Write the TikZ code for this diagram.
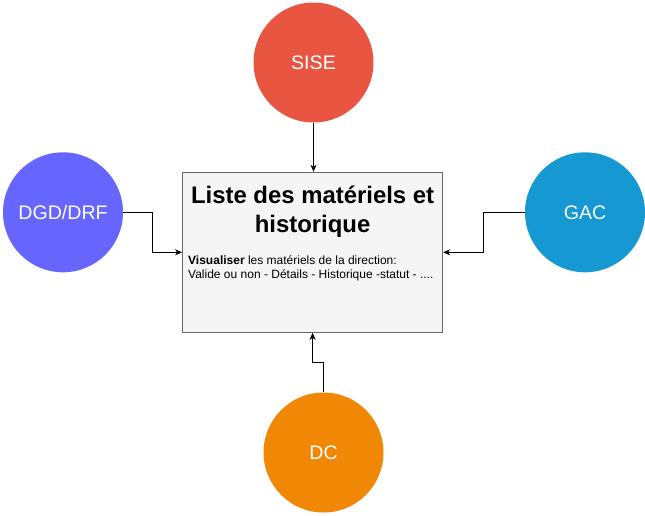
\documentclass[tikz,border=0pt]{standalone}
\usepackage{fontspec}
\setmainfont{Liberation Sans}
\usetikzlibrary{arrows.meta,calc}
\definecolor{siseC}{HTML}{E85642}
\definecolor{dgdC}{HTML}{6666FF}
\definecolor{gacC}{HTML}{1699D3}
\definecolor{dcC}{HTML}{F08705}
\definecolor{boxFill}{HTML}{F5F5F5}
\definecolor{boxLine}{HTML}{666666}
\tikzset{
  actor/.style={circle, minimum size=120pt, inner sep=0pt, text=white, font=\fontsize{19.6}{23}\selectfont},
  mainbox/.style={rectangle, draw=boxLine, fill=boxFill, line width=1pt, minimum width=260pt, minimum height=160pt, inner sep=0pt},
  titletext/.style={anchor=base, inner sep=0pt, font=\bfseries\fontsize{23.9}{28.4}\selectfont},
  bodytext/.style={anchor=base west, inner sep=0pt, font=\fontsize{12}{13.6}\selectfont},
  arr/.style={draw=black, line width=1pt, -{Stealth[length=7pt,width=6pt,inset=2pt]}},
}
\begin{document}
\begin{tikzpicture}[x=1pt,y=-1pt]
\useasboundingbox (0,0) rectangle (645,515);
\node[mainbox] (box) at (312.6,252.3) {};
\node[actor, fill=siseC] (sise) at (313.5,62.5) {SISE};
\node[actor, fill=dgdC] (dgd) at (63,212.3) {DGD/DRF};
\node[actor, fill=gacC] (gac) at (585,212.3) {GAC};
\node[actor, fill=dcC] (dc) at (323.5,452.5) {DC};
\node[titletext] (title1) at (312.6,203.3) {Liste des matériels et};
\node[titletext] (title2) at (312.6,232) {historique};
\node[bodytext] (body1) at (188,264.7) {\textbf{Visualiser} les matériels de la direction:};
\node[bodytext] (body2) at (188,278.2) {Valide ou non - Détails - Historique -statut - ....};
\coordinate (m1) at ($(dgd.east)!0.5!(box.west)$);
\coordinate (m2) at ($(gac.west)!0.5!(box.east)$);
\coordinate (m3) at ($(dc.north)!0.5!(box.south)$);
\draw[arr] (sise.south) -- (sise.south |- box.north);
\draw[arr] (dgd.east) -| (m1) |- (box.west);
\draw[arr] (gac.west) -| (m2) |- (box.east);
\draw[arr] (dc.north) |- (m3) -| (box.south);
\end{tikzpicture}
\end{document}
